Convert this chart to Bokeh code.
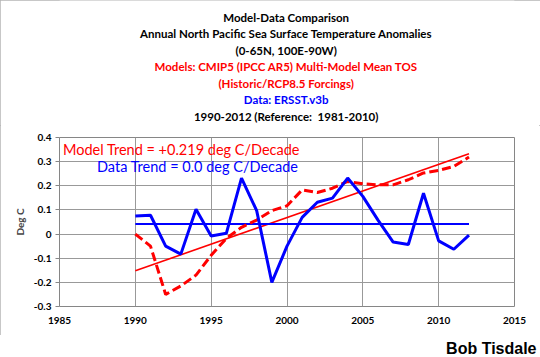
from bokeh.plotting import figure
from bokeh.models import Label, FixedTicker, Range1d, ColumnDataSource
from bokeh.layouts import column
from bokeh.core.properties import value
from bokeh.embed import file_html
from bokeh.resources import INLINE

# ---- data ----
years = list(range(1990, 2013))
data_sst = [0.075, 0.078, -0.050, -0.083, 0.103, -0.008, 0.003, 0.232, 0.097, -0.200,
            -0.050, 0.069, 0.132, 0.149, 0.232, 0.156, 0.058, -0.033, -0.043, 0.169,
            -0.028, -0.063, -0.004]
model_tos = [0.000, -0.050, -0.250, -0.215, -0.170, -0.088, -0.018, 0.028, 0.058, 0.097,
             0.117, 0.183, 0.172, 0.190, 0.218, 0.208, 0.204, 0.204, 0.225, 0.253,
             0.264, 0.280, 0.319]
trend_years = [1990, 2012]
model_trend = [-0.152, 0.333]
data_trend = [0.042, 0.042]

x_ticks = [1985, 1990, 1995, 2000, 2005, 2010, 2015]
y_ticks = [-0.3, -0.2, -0.1, 0.0, 0.1, 0.2, 0.3, 0.4]
y_tick_labels = ["-0.3", "-0.2", "-0.1", "0", "0.1", "0.2", "0.3", "0.4"]

title_text = [
    "Model-Data Comparison",
    "Annual North Pacific Sea Surface Temperature Anomalies",
    "(0-65N, 100E-90W)",
    "Models: CMIP5 (IPCC AR5) Multi-Model Mean TOS",
    "(Historic/RCP8.5 Forcings)",
    "Data: ERSST.v3b",
    "1990-2012 (Reference:\u00a0 1981-2010)",
]
title_colors = ["#000000", "#000000", "#000000", "#ff0000", "#ff0000", "#0000ff", "#000000"]
model_note = "Model Trend = +0.219 deg C/Decade"
data_note = "Data Trend = 0.0 deg C/Decade"
credit = "Bob Tisdale"

# ---- layout geometry (px) ----
W = 540
HEAD_H = 125          # header strip height
MAIN_TOP = HEAD_H     # main figure starts here (absolute)
MAIN_BOT = 335        # main figure ends here (absolute)
FOOT_H = 357 - MAIN_BOT
FL, FR, FT, FB = 59, 514, 137, 306   # plot frame, absolute px
FONT = "Lato"

# ---- header (titles) ----
head = figure(width=W, height=HEAD_H, output_backend="svg", toolbar_location=None,
              x_range=Range1d(0, W), y_range=Range1d(HEAD_H, 0),
              x_axis_type=None, y_axis_type=None,
              min_border=0, min_border_left=0, min_border_right=0,
              min_border_top=0, min_border_bottom=0)
head.outline_line_color = None
head.grid.visible = False
head.background_fill_color = "white"
head.border_fill_color = "white"
line_pitch = 16.55
head_src = ColumnDataSource(dict(
    x=[269.0] * len(title_text),
    y=[16.7 + i * line_pitch for i in range(len(title_text))],
    text=title_text,
    color=title_colors,
))
head.text(x="x", y="y", text="text", text_color="color", source=head_src,
          text_font=value(FONT), text_font_style="bold", text_font_size="11.5px",
          text_align="center", text_baseline="middle")

# ---- main chart ----
p = figure(width=W, height=MAIN_BOT - MAIN_TOP, output_backend="svg", toolbar_location=None,
           x_range=Range1d(1985, 2015), y_range=Range1d(-0.3, 0.4),
           min_border_left=FL, min_border_right=W - FR,
           min_border_top=FT - MAIN_TOP, min_border_bottom=MAIN_BOT - FB)
p.background_fill_color = "white"
p.border_fill_color = "white"
p.outline_line_color = "#868686"
p.outline_line_width = 1

p.xaxis.ticker = FixedTicker(ticks=x_ticks)
p.yaxis.ticker = FixedTicker(ticks=y_ticks)
p.yaxis.major_label_overrides = {v: s for v, s in zip(y_ticks, y_tick_labels)}
for ax in (p.xaxis[0], p.yaxis[0]):
    ax.axis_line_color = None
    ax.minor_tick_line_color = None
    ax.major_label_text_font = FONT
    ax.major_label_text_font_style = "bold"
    ax.major_label_text_font_size = "10px"
    ax.major_label_text_color = "#000000"
p.xaxis.major_tick_line_color = None
p.xaxis.major_tick_out = 0
p.xaxis.major_tick_in = 0
p.xaxis.major_label_standoff = 10
p.yaxis.major_tick_line_color = "#868686"
p.yaxis.major_tick_out = 4
p.yaxis.major_tick_in = 0
p.yaxis.major_label_standoff = 4
p.yaxis.axis_label = "Deg C"
p.yaxis.axis_label_text_font = FONT
p.yaxis.axis_label_text_font_style = "bold"
p.yaxis.axis_label_text_font_size = "10px"
p.yaxis.axis_label_standoff = 5

p.xgrid.grid_line_color = "#999999"
p.ygrid.grid_line_color = "#999999"

p.line(trend_years, model_trend, line_color="#ff0000", line_width=1.6)
p.line(trend_years, data_trend, line_color="#0000ff", line_width=2)
p.line(years, model_tos, line_color="#ff0000", line_width=3, line_dash="9 4")
p.line(years, data_sst, line_color="#0000ff", line_width=3)

# labels inside the frame (screen units relative to the frame's bottom-left)
p.add_layout(Label(x=62.5 - FL, y=FB - 149, x_units="screen", y_units="screen",
                   text=model_note, text_color="#ff0000", text_font=FONT,
                   text_font_size="14.5px", text_align="left", text_baseline="middle"))
p.add_layout(Label(x=96.5 - FL, y=FB - 166, x_units="screen", y_units="screen",
                   text=data_note, text_color="#0000ff", text_font=FONT,
                   text_font_size="14.5px", text_align="left", text_baseline="middle"))

# ---- footer (credit) ----
foot = figure(width=W, height=FOOT_H, output_backend="svg", toolbar_location=None,
              x_range=Range1d(0, W), y_range=Range1d(FOOT_H, 0),
              x_axis_type=None, y_axis_type=None,
              min_border=0, min_border_left=0, min_border_right=0,
              min_border_top=0, min_border_bottom=0)
foot.outline_line_color = None
foot.grid.visible = False
foot.background_fill_color = "white"
foot.border_fill_color = "white"
foot.text(x=[536], y=[347.5 - MAIN_BOT], text=[credit], text_color="#000000",
          text_font=value("Liberation Sans"), text_font_style="bold", text_font_size="16px",
          text_align="right", text_baseline="middle")

chart = column(head, p, spacing=0,
               styles={"outline": "1px solid #b4b4b4", "outline-offset": "-1px"})
page = column(chart, foot, spacing=0)

open("out.html", "w").write(file_html(page, INLINE))
